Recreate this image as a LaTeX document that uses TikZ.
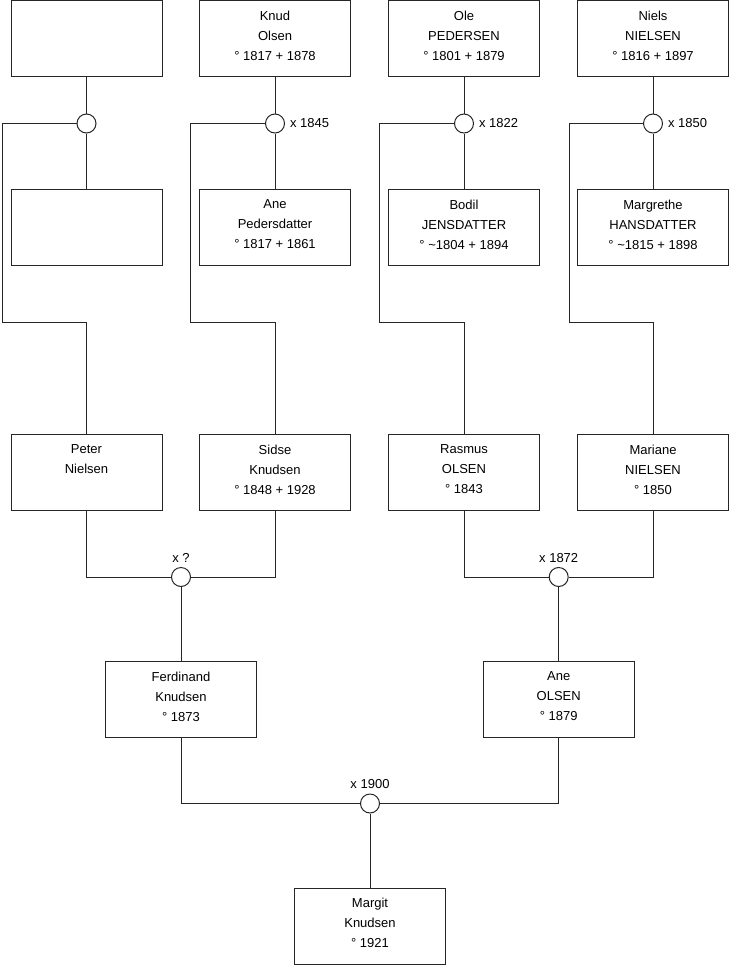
\documentclass[tikz,border=0pt]{standalone}
\usepackage{fontspec}
\setmainfont{Liberation Sans}
\begin{document}
\begin{tikzpicture}[x=1pt,y=-1pt,
  line width=1pt,
  link/.style={draw=black!85, line width=1pt},
  person/.style={draw=black!85, fill=white, minimum width=151pt, minimum height=76pt, inner sep=0pt,
    label={[anchor=north, align=center, inner sep=0pt, yshift=-10.5pt,
      font=\fontsize{13}{20}\selectfont]north:#1}},
  emptyperson/.style={draw=black!85, fill=white, minimum width=151pt, minimum height=76pt, inner sep=0pt},
  marriage/.style={circle, draw=black!85, fill=white, minimum size=19pt, inner sep=0pt},
  mlabel/.style={font=\fontsize{13}{15}\selectfont, inner sep=0pt}
]
\useasboundingbox (0,0) rectangle (740,975);

% top row
\node[emptyperson] (a1) at (86.5,38.5) {};
\node[person={Knud\\Olsen\\° 1817 + 1878}] (b1) at (275,38.5) {};
\node[person={Ole\\PEDERSEN\\° 1801 + 1879}] (c1) at (464,38.5) {};
\node[person={Niels\\NIELSEN\\° 1816 + 1897}] (d1) at (653,38.5) {};

% second row
\node[emptyperson] (a2) at (86.5,227.5) {};
\node[person={Ane\\Pedersdatter\\° 1817 + 1861}] (b2) at (275,227.5) {};
\node[person={Bodil\\JENSDATTER\\° \textasciitilde 1804 + 1894}] (c2) at (464,227.5) {};
\node[person={Margrethe\\HANSDATTER\\° \textasciitilde 1815 + 1898}] (d2) at (653,227.5) {};

% marriage circles row 1
\node[marriage] (ma) at (86.5,123.5) {};
\node[marriage] (mb) at (275,123.5) {};
\node[marriage] (mc) at (464,123.5) {};
\node[marriage] (md) at (653,123.5) {};
\node[mlabel, anchor=west] (lb) at ([xshift=4.5pt]mb.east) {x 1845};
\node[mlabel, anchor=west] (lc) at ([xshift=4.5pt]mc.east) {x 1822};
\node[mlabel, anchor=west] (ld) at ([xshift=4.5pt]md.east) {x 1850};

% third row
\node[person={Peter\\Nielsen}] (a3) at (86.5,472.5) {};
\node[person={Sidse\\Knudsen\\° 1848 + 1928}] (b3) at (275,472.5) {};
\node[person={Rasmus\\OLSEN\\° 1843}] (c3) at (464,472.5) {};
\node[person={Mariane\\NIELSEN\\° 1850}] (d3) at (653,472.5) {};

% elbow coordinates
\coordinate (ka) at (2,322);
\coordinate (kb) at (190.5,322);
\coordinate (kc) at (379.5,322);
\coordinate (kd) at (569,322);

% connectors row 1 -> row 2
\foreach \m/\u/\l in {ma/a1/a2, mb/b1/b2, mc/c1/c2, md/d1/d2}{
  \draw[link] (\u.south) -- (\m.north);
  \draw[link] (\m.south) -- (\l.north);
}
\foreach \m/\k/\c in {ma/ka/a3, mb/kb/b3, mc/kc/c3, md/kd/d3}{
  \draw[link] (\m.west) -- (\m.west -| \k) -- (\k) -- (\k -| \c.north) -- (\c.north);
}

% marriage circles row 3
\node[marriage] (me) at (181,577) {};
\node[marriage] (mf) at (558.7,577) {};
\node[mlabel, anchor=south] (le) at ([yshift=4pt]me.north) {x ?};
\node[mlabel, anchor=south] (lf) at ([yshift=4pt]mf.north) {x 1872};
\draw[link] (a3.south) |- (me.west);
\draw[link] (b3.south) |- (me.east);
\draw[link] (c3.south) |- (mf.west);
\draw[link] (d3.south) |- (mf.east);

% fourth row
\node[person={Ferdinand\\Knudsen\\° 1873}] (e4) at (181,699.3) {};
\node[person={Ane\\OLSEN\\° 1879}] (f4) at (558.7,699.3) {};
\draw[link] (me.south) -- (e4.north);
\draw[link] (mf.south) -- (f4.north);

% final marriage
\node[marriage] (mg) at (370,803.5) {};
\node[mlabel, anchor=south] (lg) at ([yshift=4pt]mg.north) {x 1900};
\draw[link] (e4.south) |- (mg.west);
\draw[link] (f4.south) |- (mg.east);

\node[person={Margit\\Knudsen\\° 1921}] (g5) at (370,926) {};
\draw[link] (mg.south) -- (g5.north);
\end{tikzpicture}
\end{document}
